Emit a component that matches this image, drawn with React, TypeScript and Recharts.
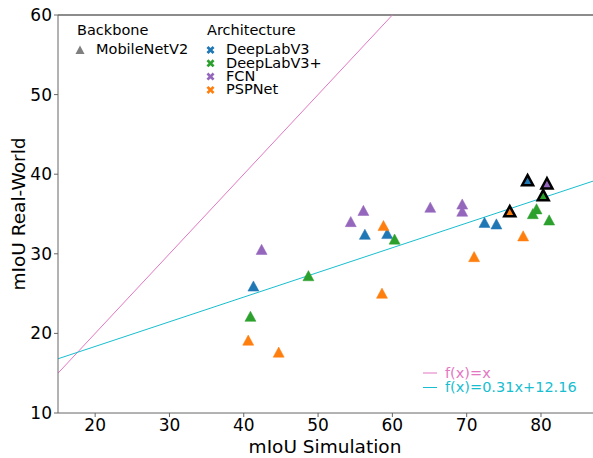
import React from 'react';
import {
  ScatterChart,
  Scatter,
  XAxis,
  YAxis,
  ReferenceLine,
} from 'recharts';

// mIoU simulation (x) vs mIoU real-world (y), MobileNetV2 backbone
const deeplabv3Sim = [41.3, 56.3, 59.3, 72.4, 74.0, 78.2];
const deeplabv3Real = [25.9, 32.4, 32.5, 33.9, 33.7, 39.2];
const deeplabv3Best = [false, false, false, false, false, true];

const deeplabv3pSim = [40.9, 48.7, 60.3, 78.9, 79.4, 81.1, 80.3];
const deeplabv3pReal = [22.1, 27.2, 31.8, 35.0, 35.6, 34.2, 37.3];
const deeplabv3pBest = [false, false, false, false, false, false, true];

const fcnSim = [42.4, 54.4, 56.1, 65.1, 69.4, 69.4, 80.8];
const fcnReal = [30.5, 34.0, 35.4, 35.8, 36.2, 35.3, 38.8];
const fcnBest = [false, false, false, false, false, false, true];

const pspSim = [40.6, 44.7, 58.6, 58.8, 71.0, 77.6, 75.8];
const pspReal = [19.1, 17.6, 25.0, 33.5, 29.6, 32.2, 35.3];
const pspBest = [false, false, false, false, false, false, true];

const xTicks = [20, 30, 40, 50, 60, 70, 80];
const yTicks = [10, 20, 30, 40, 50, 60];
const xDomain = [15, 87];
const yDomain = [10, 60];

const fitSlope = 0.31;
const fitIntercept = 12.16;

const FONT = 'DejaVu Sans, sans-serif';
const SPINE = '#666';
const LEGEND_FS = 14.5;
const ROW = 13.3;

const toPoints = (xs: number[], ys: number[], best: boolean[]) =>
  xs.map((x, i) => ({ x, y: ys[i], best: best[i] }));

const series = [
  { name: 'DeepLabV3', color: '#1f77b4', data: toPoints(deeplabv3Sim, deeplabv3Real, deeplabv3Best) },
  { name: 'DeepLabV3+', color: '#2ca02c', data: toPoints(deeplabv3pSim, deeplabv3pReal, deeplabv3pBest) },
  { name: 'FCN', color: '#9467bd', data: toPoints(fcnSim, fcnReal, fcnBest) },
  { name: 'PSPNet', color: '#ff7f0e', data: toPoints(pspSim, pspReal, pspBest) },
];

const triangle = (color: string) => (props: any) => {
  const { cx, cy, payload } = props;
  const h = 5.5;
  const pts = `${cx},${cy - h} ${cx - h},${cy + h * 0.85} ${cx + h},${cy + h * 0.85}`;
  return (
    <polygon
      points={pts}
      fill={color}
      stroke={payload.best ? '#000' : color}
      strokeWidth={payload.best ? 2.5 : 0.5}
      strokeLinejoin="miter"
    />
  );
};

// filled "X" marker used in the architecture legend
const xMarker = (x: number, y: number, color: string) => {
  const a = 1.9;
  const b = 4;
  const d = `M${x - b},${y - b + a} L${x - b + a},${y - b} L${x},${y - a} L${x + b - a},${y - b} L${x + b},${y - b + a} L${x + a},${y} L${x + b},${y + b - a} L${x + b - a},${y + b} L${x},${y + a} L${x - b + a},${y + b} L${x - b},${y + b - a} L${x - a},${y} Z`;
  return <path d={d} fill={color} />;
};

export default function App() {
  const fitStart = xDomain[0] * fitSlope + fitIntercept;
  const fitEnd = xDomain[1] * fitSlope + fitIntercept;
  return (
    <div style={{ position: 'absolute', left: 0, top: 0, width: 593, height: 458, background: '#fff' }}>
      <ScatterChart
        width={593}
        height={458}
        margin={{ top: 15, right: 0, bottom: 0, left: 0 }}
      >
        <XAxis
          type="number"
          dataKey="x"
          domain={xDomain}
          ticks={xTicks}
          allowDataOverflow
          height={45}
          stroke={SPINE}
          tickSize={4}
          tickMargin={2}
          tick={{ fill: '#000', fontSize: 17, fontFamily: FONT }}
        />
        <YAxis
          type="number"
          dataKey="y"
          domain={yDomain}
          ticks={yTicks}
          allowDataOverflow
          width={58}
          stroke={SPINE}
          tickSize={4}
          tickMargin={2}
          tick={{ fill: '#000', fontSize: 17, fontFamily: FONT }}
        />
        <ReferenceLine y={60} stroke={SPINE} strokeWidth={1.5} />
        {series.map((s) => (
          <Scatter
            key={s.name}
            name={s.name}
            data={s.data}
            fill={s.color}
            shape={triangle(s.color)}
            isAnimationActive={false}
          />
        ))}
        <ReferenceLine
          segment={[{ x: 15, y: 15 }, { x: 60, y: 60 }]}
          stroke="#e377c2"
          strokeWidth={1}
          ifOverflow="hidden"
        />
        <ReferenceLine
          segment={[{ x: xDomain[0], y: fitStart }, { x: xDomain[1], y: fitEnd }]}
          stroke="#17becf"
          strokeWidth={1}
          ifOverflow="hidden"
        />
      </ScatterChart>
      <svg
        width={593}
        height={458}
        style={{ position: 'absolute', left: 0, top: 0, pointerEvents: 'none' }}
        fontFamily={FONT}
      >
        <text x={77} y={35} fontSize={LEGEND_FS}>Backbone</text>
        <polygon points="80,45.5 75.5,54 84.5,54" fill="#7f7f7f" />
        <text x={96} y={54.3} fontSize={LEGEND_FS}>MobileNetV2</text>
        <text x={207} y={35} fontSize={LEGEND_FS}>Architecture</text>
        {series.map((s, i) => (
          <g key={s.name}>
            {xMarker(210.5, 50 + i * ROW, s.color)}
            <text x={226} y={54.3 + i * ROW} fontSize={LEGEND_FS}>{s.name}</text>
          </g>
        ))}
        <line x1={423} x2={437} y1={373} y2={373} stroke="#e377c2" strokeWidth={1} />
        <text x={445} y={377.5} fontSize={LEGEND_FS} fill="#e377c2">f(x)=x</text>
        <line x1={423} x2={437} y1={387.5} y2={387.5} stroke="#17becf" strokeWidth={1} />
        <text x={445} y={392} fontSize={LEGEND_FS} fill="#17becf">f(x)=0.31x+12.16</text>
        <text x={325} y={453} fontSize={18.5} textAnchor="middle">mIoU Simulation</text>
        <text x={25} y={214} fontSize={18.5} textAnchor="middle" transform="rotate(-90 25 214)">
          mIoU Real-World
        </text>
      </svg>
    </div>
  );
}
